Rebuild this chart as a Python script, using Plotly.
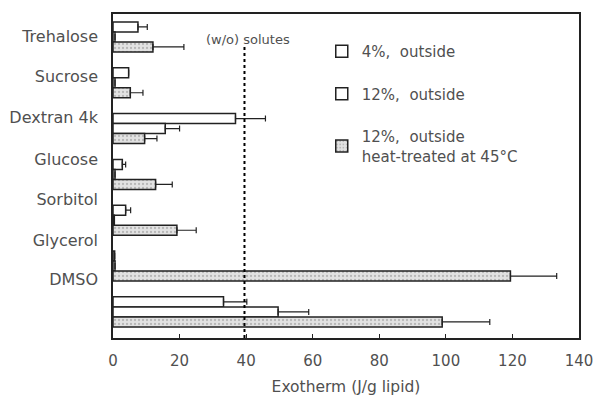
import plotly.graph_objects as go

categories = ["Trehalose", "Sucrose", "Dextran 4k", "Glucose", "Sorbitol", "Glycerol", "DMSO"]
series_names = ["4%,  outside", "12%,  outside", "12%,  outside<br>heat-treated at 45°C"]
vals_4 = [7.5, 4.7, 36.8, 2.8, 3.8, 0.5, 33.2]
err_4 = [2.8, 0.0, 9.0, 1.0, 1.5, 0.0, 7.0]
vals_12 = [0.6, 0.6, 15.7, 0.6, 0.4, 0.6, 49.6]
err_12 = [0.0, 0.0, 4.3, 0.0, 0.0, 0.0, 9.2]
vals_12h = [12.0, 5.2, 9.5, 12.8, 19.2, 119.4, 98.9]
err_12h = [9.3, 3.8, 3.7, 5.0, 5.8, 13.9, 14.3]
ref_value = 39.5
x_ticks = [0, 20, 40, 60, 80, 100, 120, 140]

# label positions (scanned figure labels drift relative to bar groups)
label_pos = [-0.02, 0.86, 1.76, 2.68, 3.55, 4.43, 5.30]

pos = list(range(len(categories)))
line_col = "#222222"
txt_col = "#505050"
FONT = "DejaVu Sans, Verdana, sans-serif"

fig = go.Figure()
styles = [
    dict(color="white"),
    dict(color="white"),
    dict(color="#d6d6d6", pattern=dict(shape=".", fgcolor="#8c8c8c", bgcolor="#e2e2e2", size=4, solidity=0.25, fillmode="overlay")),
]
for i, (v, e) in enumerate([(vals_4, err_4), (vals_12, err_12), (vals_12h, err_12h)]):
    fig.add_trace(go.Bar(
        y=pos, x=v, orientation="h", name=series_names[i], legendgroup=str(i),
        marker=dict(line=dict(color=line_col, width=1.5), **styles[i]),
        error_x=dict(type="data", array=e, arrayminus=[0] * len(e), symmetric=False,
                     color=line_col, thickness=1.2, width=3),
    ))

fig.add_shape(type="line", x0=ref_value, x1=ref_value, xref="x", yref="paper", y0=0, y1=0.905,
              line=dict(color="black", width=2, dash="dot"))
fig.add_annotation(x=ref_value + 1, xref="x", y=0.952, yref="paper", text="(w/o) solutes",
                   showarrow=False, font=dict(size=13, color=txt_col, family=FONT))

fig.update_layout(
    width=598, height=401,
    margin=dict(l=113, r=19, t=14, b=63),
    paper_bgcolor="white", plot_bgcolor="white",
    barmode="group", bargap=0.345, bargroupgap=0,
    font=dict(family=FONT, size=15, color=txt_col),
    legend=dict(x=0.448, y=0.935, xanchor="left", yanchor="top", bgcolor="rgba(0,0,0,0)",
                tracegroupgap=20, itemwidth=30, font=dict(size=15, color=txt_col, family=FONT)),
    xaxis=dict(range=[0, 140], tickvals=x_ticks, ticks="inside", ticklen=4, tickcolor=line_col,
               showline=True, linecolor=line_col, linewidth=1.5, mirror=True, showgrid=False,
               zeroline=False, automargin=False, ticklabelstandoff=8,
               title=dict(text="Exotherm (J/g lipid)", font=dict(size=15.5), standoff=12),
               tickfont=dict(size=15)),
    yaxis=dict(range=[6.57, -0.5], tickvals=label_pos, ticktext=categories, ticks="",
               showline=True, linecolor=line_col, linewidth=1.5, mirror=True, showgrid=False,
               zeroline=False, automargin=False, ticklabelstandoff=10, tickfont=dict(size=16)),
)

fig.write_html("out.html")
